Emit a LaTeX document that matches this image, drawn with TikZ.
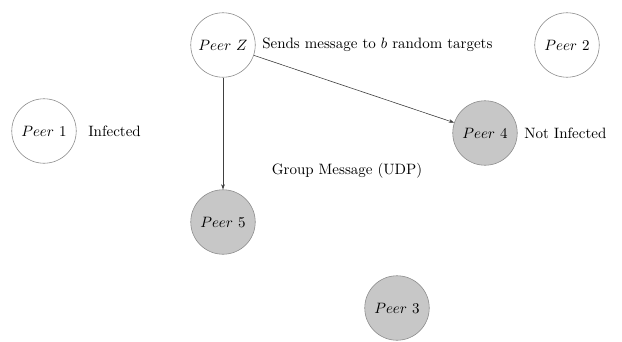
\documentclass[tikz,border=0pt]{standalone}
\usetikzlibrary{arrows.meta}
\begin{document}
\begin{tikzpicture}[x=0.6667pt,y=-0.6667pt,
  peer/.style={circle,draw=black!45,line width=0.4pt,minimum size=43pt,inner sep=0pt},
  infected/.style={peer,fill=white},
  clean/.style={peer,fill=black!22},
  lbl/.style={anchor=west,inner sep=0pt,font=\normalsize},
  conn/.style={draw=black!75,line width=0.4pt,-{Stealth[length=3.5pt,width=2.5pt]}}]
\useasboundingbox (0,0) rectangle (622,342);
\node[infected] (z) at (223,45) {$Peer~Z$};
\node[infected] (p2) at (567,45) {$Peer~2$};
\node[infected] (p1) at (44,131) {$Peer~1$};
\node[clean] (p4) at (485,133) {$Peer~4$};
\node[clean] (p5) at (223,222) {$Peer~5$};
\node[clean] (p3) at (397,308) {$Peer~3$};
\node[lbl] (lz) at (262,45) {Sends message to $b$ random targets};
\node[lbl] (l1) at (88,131) {Infected};
\node[lbl] (l4) at (524,133) {Not Infected};
\node[inner sep=0pt] (lg) at (347,171) {Group Message (UDP)};
\draw[conn] (z) -- (p5);
\draw[conn] (z) -- (p4);
\end{tikzpicture}
\end{document}
